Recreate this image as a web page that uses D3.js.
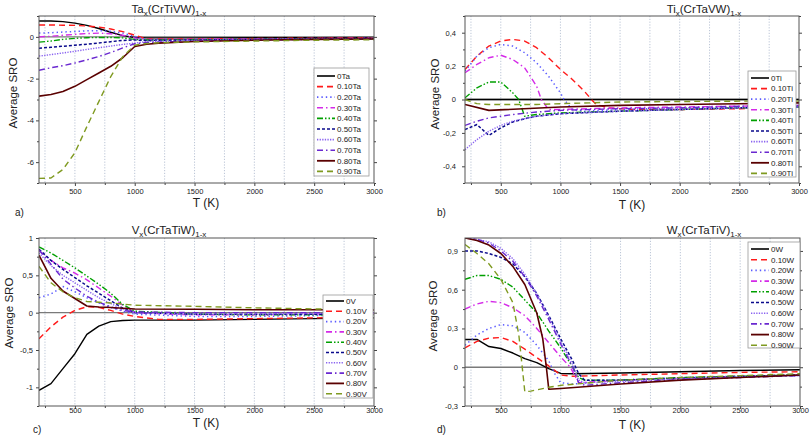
<!DOCTYPE html>
<html><head><meta charset="utf-8">
<script src="https://cdn.jsdelivr.net/npm/d3@7"></script>
<style>
body{margin:0;background:#fff}
svg{display:block}
text{font-family:"Liberation Sans",Arial,sans-serif;fill:#222}
</style>
</head><body>
<svg id="fig" width="810" height="438"></svg>
<script>
// ---------------- DATA ----------------
const fractions = ["0", "0.10", "0.20", "0.30", "0.40", "0.50", "0.60", "0.70", "0.80", "0.90"];
const xMajorTicks = [500, 1000, 1500, 2000, 2500, 3000];
const xMinorTicks = [250, 750, 1250, 1750, 2250, 2750];

// a) Ta_x(CrTiVW)_1-x   [T (K), average SRO]
const seriesTa = [
  [[200,0.76],[300,0.76],[400,0.73],[500,0.66],[600,0.55],[700,0.4],[800,0.22],[900,0.06],[1000,-0.03],[1100,-0.05],[1500,-0.05],[2000,-0.04],[2500,-0.04],[3000,-0.03]],
  [[200,0.57],[300,0.57],[400,0.56],[500,0.55],[600,0.52],[700,0.47],[800,0.38],[900,0.25],[1000,0.08],[1100,-0.1],[1500,-0.1],[2000,-0.08],[2500,-0.06],[3000,-0.05]],
  [[200,0.18],[300,0.2],[400,0.23],[500,0.26],[600,0.29],[700,0.3],[800,0.27],[900,0.18],[1000,0.02],[1100,-0.12],[1500,-0.12],[2000,-0.1],[2500,-0.08],[3000,-0.07]],
  [[200,0.0],[300,0.03],[400,0.08],[500,0.12],[600,0.16],[700,0.18],[800,0.15],[900,0.08],[1000,-0.05],[1100,-0.13],[1500,-0.12],[2000,-0.1],[2500,-0.08],[3000,-0.07]],
  [[200,-0.25],[300,-0.2],[400,-0.12],[500,-0.07],[600,-0.04],[700,-0.03],[800,-0.03],[900,-0.05],[1000,-0.12],[1100,-0.15],[1500,-0.14],[2000,-0.12],[2500,-0.1],[3000,-0.08]],
  [[200,-0.54],[300,-0.5],[400,-0.45],[500,-0.4],[600,-0.35],[700,-0.29],[800,-0.23],[900,-0.17],[1000,-0.15],[1100,-0.17],[1500,-0.15],[2000,-0.12],[2500,-0.1],[3000,-0.08]],
  [[200,-0.92],[300,-0.85],[400,-0.77],[500,-0.69],[600,-0.6],[700,-0.52],[800,-0.44],[900,-0.36],[1000,-0.3],[1100,-0.22],[1500,-0.17],[2000,-0.13],[2500,-0.1],[3000,-0.08]],
  [[200,-1.6],[300,-1.48],[400,-1.38],[500,-1.25],[600,-1.1],[700,-0.94],[800,-0.75],[900,-0.53],[1000,-0.33],[1100,-0.27],[1500,-0.2],[2000,-0.15],[2500,-0.12],[3000,-0.09]],
  [[200,-2.84],[300,-2.76],[400,-2.62],[500,-2.37],[600,-2.05],[700,-1.73],[800,-1.41],[900,-1.0],[1000,-0.46],[1100,-0.35],[1200,-0.3],[1500,-0.22],[2000,-0.16],[2500,-0.12],[3000,-0.1]],
  [[200,-6.78],[300,-6.76],[400,-6.35],[500,-5.55],[600,-4.3],[700,-3.1],[800,-1.9],[900,-0.95],[1000,-0.4],[1100,-0.32],[1200,-0.28],[1500,-0.24],[2000,-0.2],[2500,-0.16],[3000,-0.14]]
];

// b) Ti_x(CrTaVW)_1-x
const seriesTi = [
  [[200,0],[500,0],[1000,0],[1500,0],[2000,0],[2500,0],[3000,0]],
  [[200,0.18],[300,0.26],[400,0.32],[500,0.35],[600,0.36],[700,0.35],[800,0.31],[900,0.25],[1000,0.18],[1100,0.12],[1200,0.05],[1260,0.0],[1300,-0.03],[1400,-0.05],[1600,-0.06],[2000,-0.06],[2500,-0.055],[3000,-0.045]],
  [[200,0.17],[300,0.26],[400,0.31],[500,0.33],[600,0.32],[700,0.28],[800,0.22],[900,0.14],[1000,0.04],[1030,0.0],[1100,-0.06],[1200,-0.07],[1500,-0.06],[2000,-0.05],[2500,-0.045],[3000,-0.04]],
  [[200,0.16],[300,0.21],[400,0.25],[500,0.265],[600,0.24],[700,0.19],[800,0.08],[840,0.0],[900,-0.06],[1000,-0.06],[1500,-0.05],[2000,-0.045],[2500,-0.04],[3000,-0.035]],
  [[200,0.01],[250,0.04],[300,0.07],[400,0.105],[500,0.105],[600,0.04],[650,0.0],[700,-0.1],[800,-0.09],[1000,-0.08],[1500,-0.07],[2000,-0.06],[2500,-0.05],[3000,-0.045]],
  [[200,-0.18],[300,-0.15],[400,-0.215],[500,-0.17],[600,-0.135],[700,-0.115],[800,-0.1],[1000,-0.085],[1500,-0.07],[2000,-0.06],[2500,-0.05],[3000,-0.045]],
  [[200,-0.3],[300,-0.24],[400,-0.19],[500,-0.155],[600,-0.13],[700,-0.115],[800,-0.1],[1000,-0.085],[1500,-0.07],[2000,-0.06],[2500,-0.05],[3000,-0.045]],
  [[200,-0.155],[300,-0.13],[400,-0.11],[500,-0.1],[600,-0.09],[800,-0.075],[1000,-0.065],[1500,-0.055],[2000,-0.05],[2500,-0.04],[3000,-0.035]],
  [[200,-0.03],[400,-0.065],[1000,-0.045],[1500,-0.035],[2000,-0.03],[2500,-0.025],[3000,-0.02]],
  [[200,0.0],[300,-0.025],[400,-0.03],[800,-0.03],[1000,-0.025],[1500,-0.015],[2000,-0.012],[2500,-0.01],[3000,-0.01]]
];

// c) V_x(CrTaTiW)_1-x
const seriesV = [
  [[200,-1.04],[300,-0.95],[400,-0.75],[500,-0.55],[600,-0.29],[700,-0.18],[800,-0.12],[900,-0.105],[1000,-0.1],[1500,-0.1],[2000,-0.09],[2500,-0.08],[3000,-0.07]],
  [[200,-0.35],[300,-0.19],[400,-0.06],[500,0.03],[600,0.08],[700,0.07],[800,0.03],[900,-0.02],[1000,-0.05],[1200,-0.09],[1500,-0.09],[2000,-0.08],[2500,-0.07],[3000,-0.06]],
  [[200,0.2],[300,0.25],[400,0.35],[500,0.28],[600,0.2],[700,0.13],[800,0.07],[900,0.02],[1000,-0.02],[1500,-0.05],[2000,-0.05],[2500,-0.04],[3000,-0.03]],
  [[200,0.83],[300,0.7],[400,0.6],[500,0.53],[600,0.44],[700,0.33],[800,0.22],[900,0.1],[1000,0.0],[1500,-0.03],[2000,-0.03],[2500,-0.02],[3000,-0.02]],
  [[200,0.88],[300,0.8],[400,0.7],[500,0.6],[600,0.49],[700,0.38],[800,0.26],[900,0.11],[1000,0.02],[1500,-0.02],[2000,-0.03],[2500,-0.03],[3000,-0.03]],
  [[200,0.85],[300,0.7],[400,0.58],[500,0.47],[600,0.36],[700,0.26],[800,0.16],[900,0.06],[1000,0.0],[1500,-0.02],[2000,-0.02],[2500,-0.02],[3000,-0.02]],
  [[200,0.8],[300,0.63],[400,0.5],[500,0.4],[600,0.3],[700,0.2],[800,0.12],[900,0.05],[1000,0.0],[1500,-0.02],[2000,-0.02],[2500,-0.01],[3000,-0.01]],
  [[200,0.84],[300,0.65],[400,0.45],[500,0.33],[600,0.22],[700,0.14],[800,0.08],[900,0.03],[1000,0.01],[1500,0.0],[2000,0.0],[2500,0.0],[3000,0.0]],
  [[200,0.77],[300,0.46],[400,0.29],[500,0.19],[600,0.09],[700,0.075],[800,0.07],[1000,0.05],[1500,0.045],[2000,0.04],[2500,0.04],[3000,0.035]],
  [[200,0.62],[300,0.4],[400,0.28],[500,0.2],[600,0.15],[700,0.14],[800,0.13],[900,0.115],[1000,0.1],[1500,0.085],[2000,0.065],[2500,0.05],[3000,0.04]]
];

// d) W_x(CrTaTiV)_1-x
const seriesW = [
  [[200,0.215],[300,0.215],[400,0.16],[500,0.145],[600,0.11],[700,0.067],[800,0.036],[900,-0.01],[1000,-0.048],[1100,-0.05],[1500,-0.045],[2000,-0.035],[2500,-0.025],[3000,-0.02]],
  [[200,0.15],[300,0.2],[400,0.225],[500,0.23],[600,0.2],[700,0.14],[800,0.075],[900,0.01],[1000,-0.06],[1100,-0.07],[1500,-0.06],[2000,-0.05],[2500,-0.04],[3000,-0.035]],
  [[200,0.17],[300,0.25],[400,0.3],[500,0.33],[600,0.32],[700,0.27],[800,0.17],[900,0.05],[950,-0.05],[1000,-0.12],[1100,-0.13],[1500,-0.1],[2000,-0.08],[2500,-0.07],[3000,-0.06]],
  [[200,0.45],[300,0.49],[400,0.51],[500,0.5],[600,0.46],[700,0.4],[800,0.3],[900,0.19],[1000,0.08],[1080,0.0],[1150,-0.12],[1500,-0.1],[2000,-0.085],[2500,-0.07],[3000,-0.06]],
  [[200,0.68],[300,0.71],[400,0.71],[500,0.68],[600,0.62],[700,0.52],[800,0.42],[900,0.28],[1000,0.15],[1100,0.0],[1150,-0.08],[1200,-0.1],[1500,-0.1],[2000,-0.08],[2500,-0.07],[3000,-0.06]],
  [[200,0.9],[300,0.9],[400,0.88],[500,0.85],[600,0.8],[700,0.7],[800,0.57],[900,0.4],[1000,0.22],[1100,0.05],[1150,-0.05],[1200,-0.1],[1500,-0.1],[2000,-0.085],[2500,-0.07],[3000,-0.06]],
  [[200,1.0],[300,0.99],[400,0.97],[500,0.92],[600,0.84],[700,0.72],[800,0.57],[900,0.39],[1000,0.2],[1100,0.02],[1150,-0.1],[1200,-0.12],[1500,-0.11],[2000,-0.09],[2500,-0.075],[3000,-0.065]],
  [[200,1.0],[300,0.99],[400,0.96],[500,0.9],[600,0.82],[700,0.7],[800,0.55],[900,0.37],[1000,0.18],[1100,0.0],[1150,-0.12],[1200,-0.14],[1500,-0.12],[2000,-0.095],[2500,-0.08],[3000,-0.065]],
  [[200,1.0],[300,0.98],[400,0.945],[500,0.88],[600,0.78],[700,0.64],[800,0.42],[850,0.22],[880,0.0],[900,-0.17],[1000,-0.165],[1500,-0.13],[2000,-0.1],[2500,-0.08],[3000,-0.06]],
  [[200,0.95],[300,0.88],[400,0.8],[500,0.68],[600,0.5],[650,0.25],[700,-0.19],[750,-0.185],[900,-0.155],[1000,-0.14],[1500,-0.1],[2000,-0.08],[2500,-0.065],[3000,-0.05]]
];

// ---------------- STYLES ----------------
const lineColors = ["#000000","#ff1a1a","#5a5aff","#d42ae8","#00a000","#0a0a8c","#8a63f0","#6a28d0","#5a0000","#7f9a20"];
const lineDash   = [null,"6,4","1.4,3","6,3,1.5,3","6,2,1.5,2,1.5,2","3,2","1.3,1.3","6,3,1.5,3",null,"6,4"];
const lineWidth  = [1.4,1.4,1.5,1.4,1.4,1.5,1.4,1.4,1.6,1.4];

const panels = [
  {series: seriesTa, el: "Ta", base: "(CrTiVW)", suffix: "Ta", letter: "a)",
   px: [39, 374], py: [183, 16], yDom: [-7, 1], yMajor: [-6,-4,-2,0], yMinor: [-7,-5,-3,-1,1],
   titleX: 169, titleY: 13, yLabX: 13, yLabY: 93, xLabX: 206, xLabY: 207, letX: 15, letY: 216, yTickEnd: 34, xTickY: 195,
   leg: {x: 314, y: 68, w: 55, h: 108, row0: 76, dy: 10.6}},
  {series: seriesTi, el: "Ti", base: "(CrTaVW)", suffix: "Ti", letter: "b)",
   px: [465, 799], py: [183, 16], yDom: [-0.5, 0.5], yMajor: [-0.4,-0.2,0,0.2,0.4], yMinor: [-0.5,-0.3,-0.1,0.1,0.3,0.5],
   titleX: 704, titleY: 13, yLabX: 435, yLabY: 94, xLabX: 632, xLabY: 209, letX: 437, letY: 216, yTickEnd: 456, xTickY: 195,
   leg: {x: 748, y: 71, w: 48, h: 106, row0: 78, dy: 10.6}},
  {series: seriesV, el: "V", base: "(CrTaTiW)", suffix: "V", letter: "c)",
   px: [39, 374], py: [406, 238], yDom: [-1.25, 1], yMajor: [-1,-0.5,0,0.5,1], yMinor: [-1.25,-0.75,-0.25,0.25,0.75],
   titleX: 169, titleY: 234, yLabX: 9, yLabY: 313, xLabX: 206, xLabY: 427, letX: 33, letY: 433, yTickEnd: 33, xTickY: 414,
   leg: {x: 323, y: 295, w: 50, h: 103, row0: 301, dy: 10.3}},
  {series: seriesW, el: "W", base: "(CrTaTiV)", suffix: "W", letter: "d)",
   px: [465, 800], py: [406, 238], yDom: [-0.3, 1.0], yMajor: [-0.3,0,0.3,0.6,0.9], yMinor: [-0.15,0.15,0.45,0.75],
   titleX: 704, titleY: 234, yLabX: 433, yLabY: 316, xLabX: 632, xLabY: 429, letX: 437, letY: 433, yTickEnd: 458, xTickY: 414,
   leg: {x: 748, y: 242, w: 52, h: 106, row0: 249, dy: 10.7}}
];

const fmtComma = v => (Math.abs(v) < 1e-9 ? "0" : String(+v.toFixed(2)).replace(".", ","));

const svg = d3.select("#fig");

panels.forEach((p, pi) => {
  const x = d3.scaleLinear().domain([200, 3000]).range(p.px);
  const y = d3.scaleLinear().domain(p.yDom).range(p.py);
  const g = svg.append("g");
  const clipId = "clip" + pi;
  svg.append("clipPath").attr("id", clipId).append("rect")
    .attr("x", p.px[0]).attr("y", p.py[1]).attr("width", p.px[1]-p.px[0]).attr("height", p.py[0]-p.py[1]);

  // vertical dotted grid lines
  g.selectAll(".vg").data(xMinorTicks.concat(xMajorTicks.filter(t => t < 3000))).enter().append("line")
    .attr("x1", d => x(d)).attr("x2", d => x(d)).attr("y1", p.py[1]).attr("y2", p.py[0])
    .attr("stroke", "#aab6cc").attr("stroke-width", 0.8).attr("stroke-dasharray", "1.2,1.6");

  // zero line
  g.append("line").attr("x1", p.px[0]).attr("x2", p.px[1]).attr("y1", y(0)).attr("y2", y(0))
    .attr("stroke", "#7a7a7a").attr("stroke-width", 1.3);

  // series
  const line = d3.line().x(d => x(d[0])).y(d => y(d[1]));
  const lg = g.append("g").attr("clip-path", `url(#${clipId})`);
  p.series.forEach((s, i) => {
    lg.append("path").datum(s).attr("d", line).attr("fill", "none")
      .attr("stroke", lineColors[i]).attr("stroke-width", lineWidth[i])
      .attr("stroke-dasharray", lineDash[i]).attr("stroke-linejoin", "round");
  });

  // axes
  const xAxis = d3.axisBottom(x).tickValues(xMajorTicks).tickSize(3).tickFormat(d3.format("d"));
  const xa = g.append("g").attr("transform", `translate(0,${p.py[0]})`).call(xAxis);
  xa.select(".domain").remove();
  xa.selectAll("text").attr("font-size", 7.5).attr("y", p.xTickY - p.py[0] - 6).attr("dy", "0.71em").attr("fill", "#222");
  xa.selectAll("line").attr("stroke", "#444");
  const xm = g.append("g").attr("transform", `translate(0,${p.py[0]})`)
    .call(d3.axisBottom(x).tickValues(xMinorTicks).tickSize(2).tickFormat(""));
  xm.select(".domain").remove(); xm.selectAll("line").attr("stroke", "#444");

  const yAxis = d3.axisLeft(y).tickValues(p.yMajor).tickSize(3).tickFormat(fmtComma);
  const ya = g.append("g").attr("transform", `translate(${p.px[0]},0)`).call(yAxis);
  ya.select(".domain").remove();
  ya.selectAll("text").attr("font-size", 7.5).attr("x", p.yTickEnd - p.px[0]).attr("fill", "#222");
  ya.selectAll("line").attr("stroke", "#444");
  const ym = g.append("g").attr("transform", `translate(${p.px[0]},0)`)
    .call(d3.axisLeft(y).tickValues(p.yMinor).tickSize(2).tickFormat(""));
  ym.select(".domain").remove(); ym.selectAll("line").attr("stroke", "#444");
  const yr = g.append("g").attr("transform", `translate(${p.px[1]},0)`)
    .call(d3.axisRight(y).tickValues(p.yMajor).tickSize(3).tickFormat(""));
  yr.select(".domain").remove(); yr.selectAll("line").attr("stroke", "#444");
  const yrm = g.append("g").attr("transform", `translate(${p.px[1]},0)`)
    .call(d3.axisRight(y).tickValues(p.yMinor).tickSize(2).tickFormat(""));
  yrm.select(".domain").remove(); yrm.selectAll("line").attr("stroke", "#444");

  // frame
  g.append("rect").attr("x", p.px[0]).attr("y", p.py[1]).attr("width", p.px[1]-p.px[0]).attr("height", p.py[0]-p.py[1])
    .attr("fill", "none").attr("stroke", "#555").attr("stroke-width", 1);

  // legend
  const L = p.leg;
  const lgd = g.append("g");
  lgd.append("rect").attr("x", L.x).attr("y", L.y).attr("width", L.w).attr("height", L.h)
    .attr("fill", "#fff").attr("stroke", "#9a9a9a").attr("stroke-width", 0.8);
  fractions.forEach((f, i) => {
    const ry = L.row0 + i * L.dy;
    lgd.append("line").attr("x1", L.x + 3).attr("x2", L.x + 21).attr("y1", ry).attr("y2", ry)
      .attr("stroke", lineColors[i]).attr("stroke-width", lineWidth[i] + 0.2).attr("stroke-dasharray", lineDash[i]);
    lgd.append("text").attr("x", L.x + 23).attr("y", ry).attr("dy", "0.35em")
      .attr("font-size", 8).text(f + p.suffix);
  });

  // title with subscripts
  const t = g.append("text").attr("x", p.titleX).attr("y", p.titleY).attr("text-anchor", "middle").attr("font-size", 11.5);
  t.append("tspan").text(p.el);
  t.append("tspan").attr("font-size", 8).attr("dy", 3).text("x");
  t.append("tspan").attr("dy", -3).text(p.base);
  t.append("tspan").attr("font-size", 8).attr("dy", 3).text("1-x");

  // axis labels
  g.append("text").attr("transform", `translate(${p.yLabX},${p.yLabY}) rotate(-90)`)
    .attr("text-anchor", "middle").attr("dy", "0.35em").attr("font-size", 11.5).text("Average SRO");
  g.append("text").attr("x", p.xLabX).attr("y", p.xLabY).attr("text-anchor", "middle")
    .attr("font-size", 12).text("T (K)");
  g.append("text").attr("x", p.letX).attr("y", p.letY).attr("font-size", 10).text(p.letter);
});
</script>
</body></html>
